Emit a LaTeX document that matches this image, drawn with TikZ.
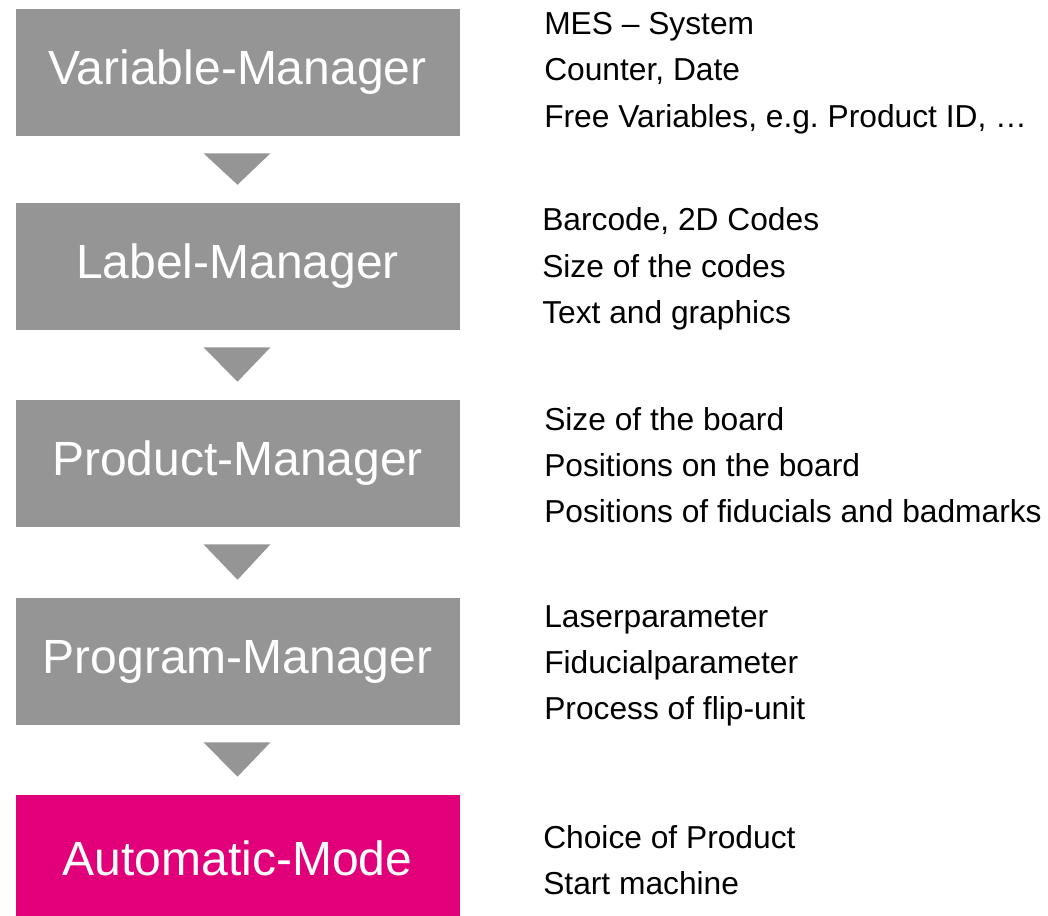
\documentclass[tikz,border=0pt]{standalone}
\usepackage{fontspec}
\setmainfont{Liberation Sans}
\usetikzlibrary{positioning,calc}
\definecolor{mgrgray}{HTML}{959595}
\definecolor{automag}{HTML}{E2007A}

\begin{document}
\begin{tikzpicture}[x=0.75pt,y=-0.75pt,
   mgr/.style={fill=mgrgray,text=white,minimum width=333pt,minimum height=95.25pt,
     inner sep=0pt,font=\fontsize{36}{40}\selectfont},
   info/.style={anchor=west,align=left,inner sep=0pt,font=\fontsize{23.8}{34.7}\selectfont}]
 \useasboundingbox (0,0) rectangle (1048,915);
 \node[mgr] (V) at (237.5,72.5) {Variable-Manager};
 \node[mgr] (L) at (237.5,266.5) {Label-Manager};
 \node[mgr] (P) at (237.5,463.5) {Product-Manager};
 \node[mgr] (G) at (237.5,661.5) {Program-Manager};
 \node[mgr,fill=automag] (A) at (237.5,858.5) {Automatic-Mode};
 % info lists
 \node[info] (Vi) at (544,73) {MES -- System\\Counter, Date\\Free Variables, e.g.\ Product ID, \dots};
 \node[info] (Li) at (542,269) {Barcode, 2D Codes\\Size of the codes\\Text and graphics};
 \node[info] (Pi) at (544,465) {Size of the board\\Positions on the board\\Positions of fiducials and badmarks};
 \node[info] (Gi) at (544,666) {Laserparameter\\Fiducialparameter\\Process of flip-unit};
 \node[info] (Ai) at (543,860) {Choice of Product\\Start machine};
 % arrows between managers
 \foreach \a/\b in {V/L,L/P,P/G,G/A}
   \fill[mgrgray] ($(\a.south)+(-34,17)$) -- ($(\a.south)+(33,17)$) -- ($(\b.north)+(0,-18)$) -- cycle;
\end{tikzpicture}
\end{document}
